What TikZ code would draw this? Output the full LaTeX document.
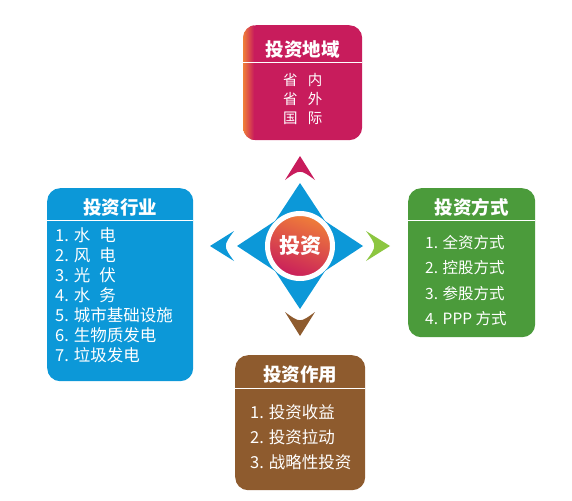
\documentclass[tikz,border=0pt]{standalone}
\usepackage{fontspec}
\newfontfamily\cjk{Noto Sans CJK SC}
\usepackage{xcolor}
\usepackage{tikz}
\usetikzlibrary{positioning,shadings}

\definecolor{cRose}{HTML}{C81C5C}
\definecolor{cAmber}{HTML}{F08038}
\definecolor{cSky}{HTML}{0C98D8}
\definecolor{cGrass}{HTML}{4B9B3B}
\definecolor{cLime}{HTML}{8CC640}
\definecolor{cUmber}{HTML}{8E5B2E}

\begin{document}
\begin{tikzpicture}[
    x=1pt, y=-1pt,
    base/.style={rectangle, rounded corners=13pt, inner sep=0pt, anchor=north west},
    Bregion/.style={base, fill=cRose},
    Bsector/.style={base, fill=cSky},
    Bmode/.style=  {base, fill=cGrass},
    Beffect/.style={base, fill=cUmber},
    head/.style={text=white, inner sep=0pt, minimum height=26pt,
                 font=\cjk\bfseries\fontsize{18.5}{20}\selectfont},
    lst/.style={text=white, inner sep=0pt, align=left, anchor=north west,
                font=\cjk\fontsize{16.5}{20}\selectfont},
    divider/.style={white, line width=1pt},
    hubdisc/.style={circle, minimum size=65pt, inner sep=0pt, draw=white, line width=5pt,
                    top color=cAmber, middle color=cRose!55!cAmber, bottom color=cRose,
                    shading angle=-20,
                    text=white, font=\cjk\bfseries\fontsize{21}{21}\selectfont},
]
\useasboundingbox (0,0) rectangle (572,500);

% centre star and pointers
\coordinate (hubc) at (300,246);
\begin{scope}[shift={(hubc)}]
  \fill[cSky] (0,-63) -- (25,-25) -- (63,0) -- (25,25) -- (0,63)
              -- (-25,25) -- (-63,0) -- (-25,-25) -- cycle;
  \foreach \ang/\col in {90/cRose, 0/cLime, -90/cUmber, 180/cSky}
    \fill[\col, rotate=\ang] (90,0) -- (66,15) .. controls (77,0) .. (66,-15) -- cycle;
\end{scope}
\node[hubdisc] (hub) at (hubc) {投资};

% top box
\node[Bregion, minimum width=119pt, minimum height=115pt] (region) at (243,25) {};
\begin{scope}
  \clip[rounded corners=13pt] (region.north west) rectangle (region.south east);
  \shade[left color=cAmber, right color=cRose]
      (region.north west) rectangle ([xshift=11pt]region.south west);
\end{scope}
\node[head] (regtitle) at (region.north) [yshift=-24pt] {投资地域};
\draw[divider] (region.west |- regtitle.south) -- (region.east |- regtitle.south);
\node[lst, anchor=north, align=center, font=\cjk\fontsize{14.5}{19}\selectfont]
    (reglist) at (regtitle.south) [yshift=-11pt]
    {省\hspace{0.7em}内\\省\hspace{0.7em}外\\国\hspace{0.7em}际};

% left box
\node[Bsector, minimum width=146pt, minimum height=193pt] (sector) at (47,188) {};
\node[head] (sectitle) at (sector.north) [yshift=-19pt] {投资行业};
\draw[divider] (sector.west |- sectitle.south) -- (sector.east |- sectitle.south);
\node[lst] (seclist) at (sector.west |- sectitle.south) [xshift=8pt, yshift=-7.5pt]
    {1. 水\hspace{0.55em}电\\
     2. 风\hspace{0.55em}电\\
     3. 光\hspace{0.55em}伏\\
     4. 水\hspace{0.55em}务\\
     5. 城市基础设施\\
     6. 生物质发电\\
     7. 垃圾发电};

% right box
\node[Bmode, minimum width=127pt, minimum height=149pt] (mode) at (408,188) {};
\node[head] (modtitle) at (mode.north) [yshift=-19pt] {投资方式};
\draw[divider] (mode.west |- modtitle.south) -- (mode.east |- modtitle.south);
\node[lst, font=\cjk\fontsize{15.5}{25.3}\selectfont]
    (modlist) at (mode.west |- modtitle.south) [xshift=17pt, yshift=-15pt]
    {1. 全资方式\\
     2. 控股方式\\
     3. 参股方式\\
     4. PPP 方式};

% bottom box
\node[Beffect, minimum width=130pt, minimum height=135pt] (effect) at (235,355) {};
\node[head] (efftitle) at (effect.north) [yshift=-20pt] {投资作用};
\draw[divider] (effect.west |- efftitle.south) -- (effect.east |- efftitle.south);
\node[lst, font=\cjk\fontsize{16.5}{25}\selectfont]
    (efflist) at (effect.west |- efftitle.south) [xshift=15pt, yshift=-16pt]
    {1. 投资收益\\
     2. 投资拉动\\
     3. 战略性投资};
\end{tikzpicture}
\end{document}
